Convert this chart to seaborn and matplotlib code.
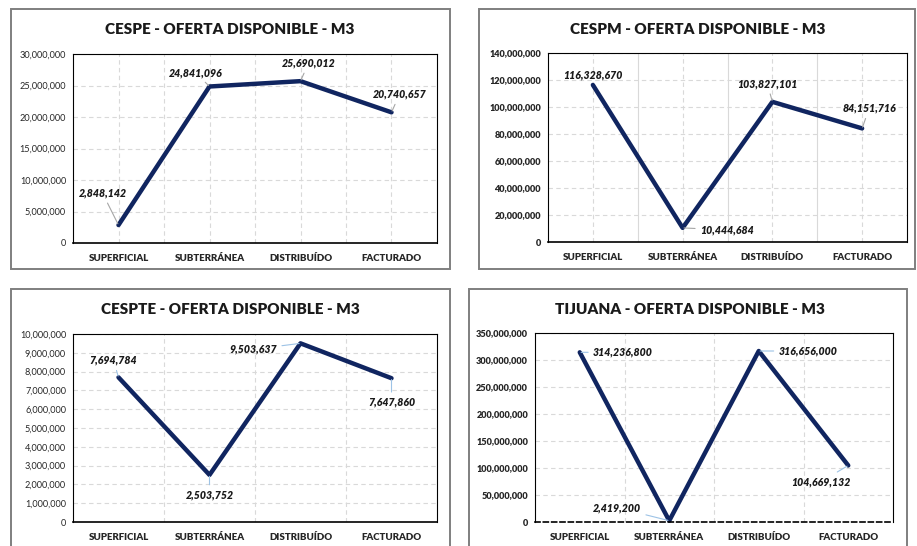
import numpy as np
import pandas as pd
import matplotlib
matplotlib.use("Agg")
import matplotlib.pyplot as plt
from matplotlib.patches import Rectangle
from matplotlib.ticker import FuncFormatter, MultipleLocator
import seaborn as sns

categories = ["SUPERFICIAL", "SUBTERRÁNEA", "DISTRIBUÍDO", "FACTURADO"]

titles = ["CESPE - OFERTA DISPONIBLE - M3", "CESPM - OFERTA DISPONIBLE - M3",
          "CESPTE - OFERTA DISPONIBLE - M3", "TIJUANA - OFERTA DISPONIBLE - M3"]

cespe = [2848142, 24841096, 25690012, 20740657]
cespm = [116328670, 10444684, 103827101, 84151716]
cespte = [7694784, 2503752, 9503637, 7647860]
tijuana = [314236800, 2419200, 316656000, 104669132]

y_max = [30000000, 140000000, 10000000, 350000000]
y_step = [5000000, 20000000, 1000000, 50000000]

W, H = 917, 546
LINE = "#102560"

sns.set_theme(style="white")
plt.rcParams["font.family"] = ["Lato", "DejaVu Sans"]

fig = plt.figure(figsize=(W / 100, H / 100), dpi=100)
fig.patch.set_facecolor("white")

# layout in pixels: frame (x0, y0, x1, y1), axes (left, top, right, bottom), title centre
panels = [
    dict(frame=(11, 9, 450, 269), ax=(73, 54, 437, 243), title=(230, 30),
         vcenter="--", vbound="--", bold=False, leader="#A6A6A6",
         offsets=[(-16, 32), (-14, 14), (8, 18), (8, 18)], leaders=[1, 1, 1, 1]),
    dict(frame=(479, 9, 915, 269), ax=(548, 53, 907, 242), title=(698, 30),
         vcenter="--", vbound="-", bold=True, leader="#A6A6A6",
         offsets=[(0, 10), (44, -2), (-5, 18), (7, 20)], leaders=[0, 1, 1, 1]),
    dict(frame=(11, 289, 450, 560), ax=(73, 334, 437, 522), title=(230, 310),
         vcenter=None, vbound="--", bold=False, leader="#9DC3E6",
         offsets=[(-5, 17), (0, -20), (-47, -6), (0, -24)], leaders=[1, 1, 1, 1]),
    dict(frame=(469, 289, 907, 560), ax=(535, 333, 893, 522), title=(690, 310),
         vcenter=None, vbound="--", bold=True, leader="#9DC3E6",
         offsets=[(43, 0), (-52, 13), (49, 0), (-27, -16)], leaders=[1, 1, 1, 1]),
]
series = [cespe, cespm, cespte, tijuana]

for k, (p, vals) in enumerate(zip(panels, series)):
    fx0, fy0, fx1, fy1 = p["frame"]
    fig.add_artist(Rectangle((fx0 / W, 1 - fy1 / H), (fx1 - fx0) / W, (fy1 - fy0) / H,
                             transform=fig.transFigure, fill=False,
                             edgecolor="#7F7F7F", lw=1.4, clip_on=False))
    l, t, r, b = p["ax"]
    ax = fig.add_axes([l / W, 1 - b / H, (r - l) / W, (b - t) / H])
    df = pd.DataFrame({"cat": categories, "val": vals})
    sns.lineplot(data=df, x="cat", y="val", ax=ax, color=LINE, lw=3.2,
                 sort=False, clip_on=False)
    ax.set_xlim(-0.5, 3.5)
    ax.set_ylim(0, y_max[k])
    ax.yaxis.set_major_locator(MultipleLocator(y_step[k]))
    ax.yaxis.set_major_formatter(FuncFormatter(lambda v, _: f"{v:,.0f}"))
    ax.set_xlabel("")
    ax.set_ylabel("")

    # grid lines
    ax.yaxis.grid(True, ls=(0, (4, 3)), color="#D9D9D9", lw=0.8)
    for xb in [0.5, 1.5, 2.5]:
        if p["vbound"] == "-":
            ax.axvline(xb, color="#D9D9D9", lw=0.8, zorder=0)
        else:
            ax.axvline(xb, color="#D9D9D9", lw=0.8, ls=(0, (4, 3)), zorder=0)
    if p["vcenter"]:
        for xc in range(4):
            ax.axvline(xc, color="#D9D9D9", lw=0.8, ls=(0, (4, 3)), zorder=0)

    for s in ax.spines.values():
        s.set_color("black")
        s.set_linewidth(0.8)
    ax.spines["bottom"].set_linewidth(1.2)
    if k == 3:
        ax.spines["bottom"].set_linestyle((0, (3, 2)))

    ax.set_xticks(range(4))
    ax.set_xticklabels(categories, fontsize=7, fontweight="heavy", color="#262626")
    ax.tick_params(axis="x", length=0, pad=8)
    ax.tick_params(axis="y", length=0, pad=5, labelsize=6.6, labelcolor="#262626")
    if p["bold"]:
        for tl in ax.get_yticklabels():
            tl.set_fontweight("heavy")
    if k == 2:
        ax.set_xticks([0.5, 1.5, 2.5], minor=True)
        ax.tick_params(axis="x", which="minor", length=3, width=0.8, color="black")

    # data labels
    for i, v in enumerate(vals):
        dx, dy = p["offsets"][i]
        arrow = dict(arrowstyle="-", color=p["leader"], lw=0.8,
                     shrinkA=1, shrinkB=1) if p["leaders"][i] else None
        ax.annotate(f"{v:,.0f}", xy=(i, v), xytext=(dx, dy), textcoords="offset pixels",
                    ha="center", va="center", fontsize=7.6, fontweight="heavy",
                    fontstyle="italic", color="#1A1A1A", arrowprops=arrow,
                    annotation_clip=False)

    tx, ty = p["title"]
    fig.text(tx / W, 1 - ty / H, titles[k], ha="center", va="center",
             fontsize=11, fontweight="heavy", color="#1A1A1A")

fig.savefig("out.png", dpi=100, facecolor="white")
